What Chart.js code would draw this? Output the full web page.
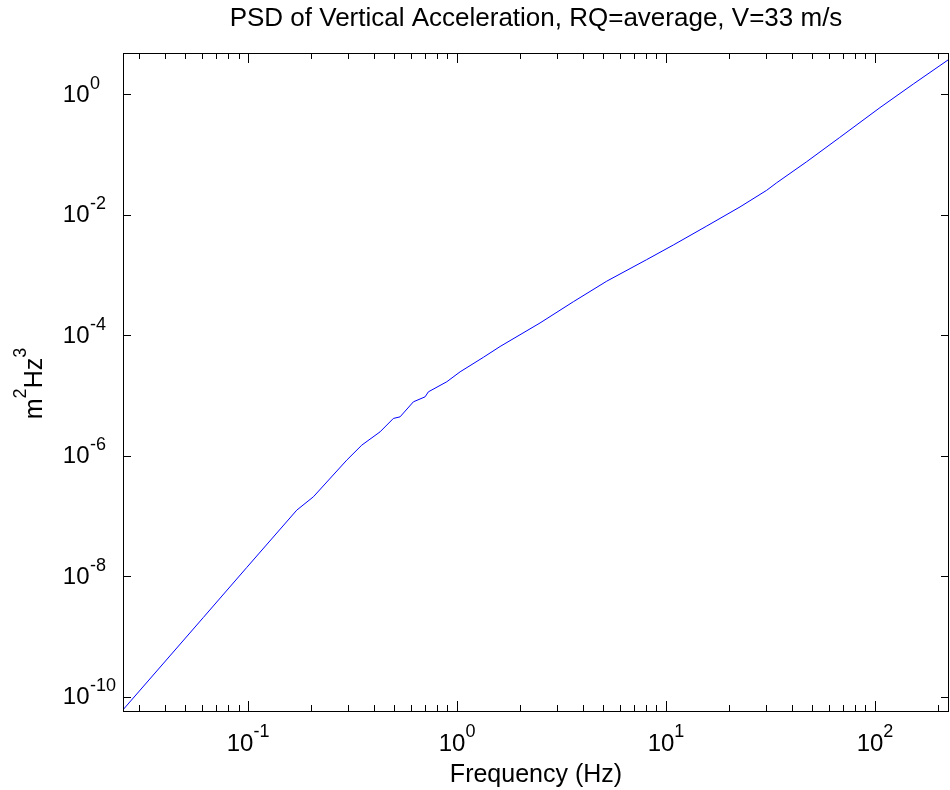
<!DOCTYPE html>
<html>
<head>
<meta charset="utf-8">
<script src="https://cdn.jsdelivr.net/npm/chart.js@4"></script>
<style>
  html, body { margin: 0; padding: 0; background: #fff; }
  canvas { display: block; }
</style>
</head>
<body>
<canvas id="c" width="950" height="790"></canvas>
<script>
// ---- data ----
const TITLE = 'PSD of Vertical Acceleration, RQ=average, V=33 m/s';
const X_LABEL = 'Frequency (Hz)';
const frequency = [0.02515, 0.0611, 0.0986, 0.171, 0.2053, 0.2966, 0.35, 0.428, 0.4957, 0.5337,
  0.618, 0.703, 0.729, 0.893, 1.034, 1.336, 1.606, 2.495, 3.601, 5.203,
  8.08, 10.84, 15.66, 22.6, 30.33, 33.85, 47.1, 67.5, 105.6, 152.5, 228.5];
const psd = [6.01e-11, 2.07e-9, 1.40e-8, 1.25e-7, 2.08e-7, 8.46e-7, 1.50e-6, 2.49e-6, 4.16e-6, 4.42e-6,
  7.85e-6, 9.5e-6, 1.15e-5, 1.69e-5, 2.47e-5, 4.3e-5, 6.5e-5, 1.6e-4, 3.6e-4, 7.9e-4,
  1.8e-3, 3.15e-3, 6.5e-3, 1.35e-2, 2.55e-2, 3.4e-2, 7.6e-2, 0.19, 0.60, 1.48, 3.91];
const xTickExponents = [-1, 0, 1, 2];
const yTickExponents = [0, -2, -4, -6, -8, -10];
const X_MIN = 0.0252, X_MAX = 226;
const Y_MIN = 5.79e-11, Y_MAX = 4.845;

const FONT = '"Liberation Sans", Arial, Helvetica, sans-serif';

function line(ctx, x1, y1, x2, y2) {
  ctx.beginPath(); ctx.moveTo(x1, y1); ctx.lineTo(x2, y2); ctx.stroke();
}

const axesPlugin = {
  id: 'matlabAxes',
  afterDraw(chart) {
    const { ctx, chartArea: a, scales: { x, y } } = chart;
    ctx.save();
    ctx.strokeStyle = '#000';
    ctx.fillStyle = '#000';
    ctx.lineWidth = 1;
    // box
    ctx.strokeRect(Math.round(a.left) + 0.5, Math.round(a.top) + 0.5,
                   Math.round(a.right - a.left) - 1, Math.round(a.bottom - a.top));
    // x ticks (major + minor), inward on bottom and top
    const e0 = Math.floor(Math.log10(x.min)), e1 = Math.ceil(Math.log10(x.max));
    for (let e = e0; e <= e1; e++) {
      for (let m = 1; m <= 9; m++) {
        const v = m * Math.pow(10, e);
        if (v < x.min || v > x.max) continue;
        const px = Math.round(x.getPixelForValue(v)) + 0.5;
        const len = m === 1 ? 10 : 6;
        line(ctx, px, a.bottom, px, a.bottom - len);
        line(ctx, px, a.top, px, a.top + len);
      }
    }
    // y ticks, inward on left and right
    yTickExponents.forEach(e => {
      const py = Math.round(y.getPixelForValue(Math.pow(10, e))) + 0.5;
      line(ctx, a.left, py, a.left + 8, py);
      line(ctx, a.right, py, a.right - 8, py);
    });
    // x tick labels
    const big = '24px ' + FONT, sup = '18px ' + FONT;
    ctx.textBaseline = 'alphabetic';
    ctx.textAlign = 'left';
    xTickExponents.forEach(e => {
      const px = x.getPixelForValue(Math.pow(10, e));
      ctx.font = big; const w1 = ctx.measureText('10').width;
      ctx.font = sup; const w2 = ctx.measureText(String(e)).width;
      const start = px - (w1 + w2) / 2;
      ctx.font = big; ctx.fillText('10', start, a.bottom + 39.7);
      ctx.font = sup; ctx.fillText(String(e), start + w1, a.bottom + 26);
    });
    // y tick labels
    yTickExponents.forEach(e => {
      const py = y.getPixelForValue(Math.pow(10, e));
      ctx.font = big; ctx.textAlign = 'right';
      ctx.fillText('10', 89.5, py + 7.5);
      ctx.font = sup; ctx.textAlign = 'left';
      ctx.fillText(String(e), 90, py - 5.5);
    });
    // y axis label m^2Hz^3 (rotated)
    const parts = [['m', false], ['2', true], ['Hz', false], ['3', true]];
    const mainF = '25px ' + FONT, supF = '18px ' + FONT;
    let total = 0;
    parts.forEach(p => { ctx.font = p[1] ? supF : mainF; total += ctx.measureText(p[0]).width; });
    const cy = (a.top + a.bottom) / 2 + 1.5;
    ctx.translate(41.5, cy + total / 2);
    ctx.rotate(-Math.PI / 2);
    let cx = 0;
    parts.forEach(p => {
      ctx.font = p[1] ? supF : mainF;
      ctx.textAlign = 'left';
      ctx.fillText(p[0], cx, p[1] ? -16 : 0);
      cx += ctx.measureText(p[0]).width;
    });
    ctx.restore();
  }
};

new Chart(document.getElementById('c').getContext('2d'), {
  type: 'line',
  data: {
    datasets: [{
      data: frequency.map((f, i) => ({ x: f, y: psd[i] })),
      borderColor: '#0000ff',
      borderWidth: 1,
      pointRadius: 0,
      tension: 0,
      fill: false
    }]
  },
  options: {
    responsive: false,
    animation: false,
    devicePixelRatio: 1,
    layout: { padding: { left: 0, right: 1, top: 0, bottom: 0 } },
    plugins: {
      legend: { display: false },
      tooltip: { enabled: false },
      title: {
        display: true, text: TITLE, fullSize: false, color: '#000',
        font: { family: FONT, size: 26, weight: 'normal' },
        padding: { top: 3, bottom: 18.8 }
      }
    },
    scales: {
      x: {
        type: 'logarithmic', min: X_MIN, max: X_MAX,
        ticks: { display: false }, grid: { display: false }, border: { display: false },
        title: { display: true, text: X_LABEL, color: '#000', font: { family: FONT, size: 25 }, padding: 0 },
        afterFit(s) { s.height = 79; }
      },
      y: {
        type: 'logarithmic', min: Y_MIN, max: Y_MAX,
        ticks: { display: false }, grid: { display: false }, border: { display: false },
        afterFit(s) { s.width = 123; }
      }
    }
  },
  plugins: [axesPlugin]
});
</script>
</body>
</html>
